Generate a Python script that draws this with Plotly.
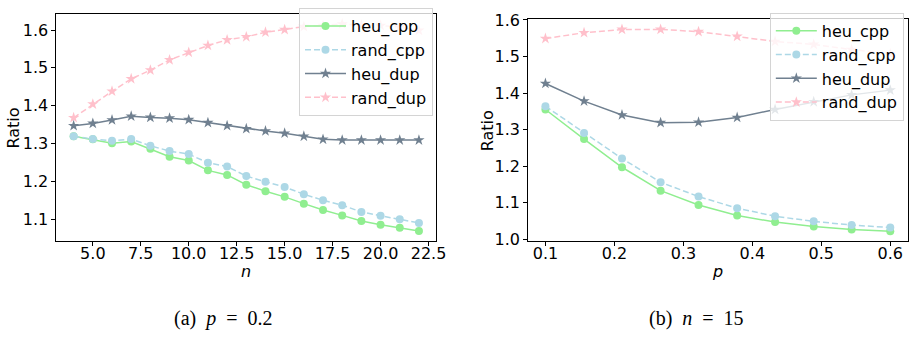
import plotly.graph_objects as go

# ---------------- data ----------------
n_vals = [4, 5, 6, 7, 8, 9, 10, 11, 12, 13, 14, 15, 16, 17, 18, 19, 20, 21, 22]
left_heu_cpp = [1.319, 1.311, 1.301, 1.305, 1.286, 1.265, 1.255, 1.229, 1.217, 1.191,
                1.174, 1.159, 1.141, 1.124, 1.110, 1.095, 1.085, 1.077, 1.069]
left_rand_cpp = [1.319, 1.312, 1.307, 1.312, 1.294, 1.280, 1.272, 1.249, 1.239, 1.214,
                 1.199, 1.185, 1.166, 1.150, 1.137, 1.119, 1.109, 1.100, 1.090]
left_heu_dup = [1.347, 1.353, 1.362, 1.372, 1.369, 1.367, 1.363, 1.355, 1.347, 1.339,
                1.333, 1.327, 1.319, 1.311, 1.309, 1.309, 1.309, 1.309, 1.309]
left_rand_dup = [1.368, 1.404, 1.438, 1.471, 1.494, 1.521, 1.541, 1.559, 1.574, 1.582,
                 1.594, 1.601, 1.609, 1.612, 1.616, 1.613, 1.612, 1.608, 1.599]

p_vals = [0.1, 0.156, 0.211, 0.267, 0.322, 0.378, 0.433, 0.489, 0.544, 0.6]
right_heu_cpp = [1.355, 1.274, 1.197, 1.133, 1.094, 1.065, 1.047, 1.035, 1.027, 1.022]
right_rand_cpp = [1.364, 1.291, 1.221, 1.156, 1.117, 1.085, 1.063, 1.049, 1.039, 1.032]
right_heu_dup = [1.426, 1.378, 1.340, 1.319, 1.320, 1.333, 1.355, 1.376, 1.395, 1.408]
right_rand_dup = [1.549, 1.565, 1.574, 1.574, 1.568, 1.555, 1.541, 1.533, 1.519, 1.507]

series_names = ["heu_cpp", "rand_cpp", "heu_dup", "rand_dup"]
NB = "\u00a0"
caption_a = "(a)" + NB * 2 + "<i>p</i>" + NB * 2 + "=" + NB * 2 + "0.2"
caption_b = "(b)" + NB * 2 + "<i>n</i>" + NB * 2 + "=" + NB * 2 + "15"

# ---------------- styles ----------------
W, H = 918, 339
styles = {
    "heu_cpp": dict(color="#90EE90", dash="solid", symbol="circle", size=8),
    "rand_cpp": dict(color="#ADD8E6", dash="6px,3px", symbol="circle", size=8),
    "heu_dup": dict(color="#708090", dash="solid", symbol="star", size=8.5),
    "rand_dup": dict(color="#FFC0CB", dash="6px,3px", symbol="star", size=8.5),
}
FONT = "DejaVu Sans"
FS = 16

fig = go.Figure()

left_series = [left_heu_cpp, left_rand_cpp, left_heu_dup, left_rand_dup]
right_series = [right_heu_cpp, right_rand_cpp, right_heu_dup, right_rand_dup]

for name, ys in zip(series_names, left_series):
    s = styles[name]
    fig.add_trace(go.Scatter(
        x=n_vals, y=ys, name=name, mode="lines+markers",
        line=dict(color=s["color"], width=1.5, dash=s["dash"]),
        marker=dict(color=s["color"], symbol=s["symbol"], size=s["size"], line=dict(width=0)),
        xaxis="x", yaxis="y", legend="legend"))

for name, ys in zip(series_names, right_series):
    s = styles[name]
    fig.add_trace(go.Scatter(
        x=p_vals, y=ys, name=name, mode="lines+markers",
        line=dict(color=s["color"], width=1.5, dash=s["dash"]),
        marker=dict(color=s["color"], symbol=s["symbol"], size=s["size"], line=dict(width=0)),
        xaxis="x2", yaxis="y2", legend="legend2"))

def px_x(v):
    return v / W

def px_y(v):
    return 1 - v / H

axis_common = dict(
    showline=True, mirror=True, linecolor="black", linewidth=1,
    ticks="outside", ticklen=4, tickwidth=1, tickcolor="black",
    showgrid=False, zeroline=False,
    tickfont=dict(family=FONT, size=FS, color="black"),
)

fig.update_layout(
    width=W, height=H,
    margin=dict(l=0, r=0, t=0, b=0),
    paper_bgcolor="white", plot_bgcolor="white",
    xaxis=dict(domain=[px_x(57), px_x(441)], range=[3.1, 22.9], anchor="y",
               tick0=0, dtick=2.5, tickformat=".1f", ticklabelstandoff=-7, **axis_common),
    yaxis=dict(domain=[px_y(244), px_y(5)], range=[1.041, 1.643], anchor="x",
               tick0=1.0, dtick=0.1, tickformat=".1f", **axis_common),
    xaxis2=dict(domain=[px_x(534), px_x(917.5)], range=[0.075, 0.625], anchor="y2",
                tick0=0, dtick=0.1, tickformat=".1f", ticklabelstandoff=-7, **axis_common),
    yaxis2=dict(domain=[px_y(244), px_y(10.7)], range=[0.994, 1.602], anchor="x2",
                tick0=1.0, dtick=0.1, tickformat=".1f", **axis_common),
    legend=dict(x=px_x(302.3), y=px_y(-1), xanchor="left", yanchor="top",
                bgcolor="rgba(255,255,255,0.8)", bordercolor="#d4d4d4", borderwidth=1,
                font=dict(family=FONT, size=FS, color="black"), itemwidth=41),
    legend2=dict(x=px_x(778.3), y=px_y(4), xanchor="left", yanchor="top",
                 bgcolor="rgba(255,255,255,0.8)", bordercolor="#d4d4d4", borderwidth=1,
                 font=dict(family=FONT, size=FS, color="black"), itemwidth=41),
    showlegend=True,
)

annots = [
    dict(text="Ratio", x=px_x(14), y=px_y(124.5), textangle=-90),
    dict(text="Ratio", x=px_x(492.3), y=px_y(127.3), textangle=-90),
    dict(text="<i>n</i>", x=px_x(249), y=px_y(276)),
    dict(text="<i>p</i>", x=px_x(725.5), y=px_y(275)),
]
for a in annots:
    fig.add_annotation(xref="paper", yref="paper", showarrow=False,
                       xanchor="center", yanchor="middle",
                       font=dict(family=FONT, size=FS, color="black"), **a)

for text, cx in [(caption_a, 225.5), (caption_b, 704.5)]:
    fig.add_annotation(xref="paper", yref="paper", showarrow=False,
                       x=px_x(cx), y=px_y(325), xanchor="center", yanchor="middle",
                       text=text,
                       font=dict(family="Liberation Serif", size=20, color="black"))

fig.write_html("out.html", config={"displayModeBar": False},
               post_script="document.body.style.margin='0';")
